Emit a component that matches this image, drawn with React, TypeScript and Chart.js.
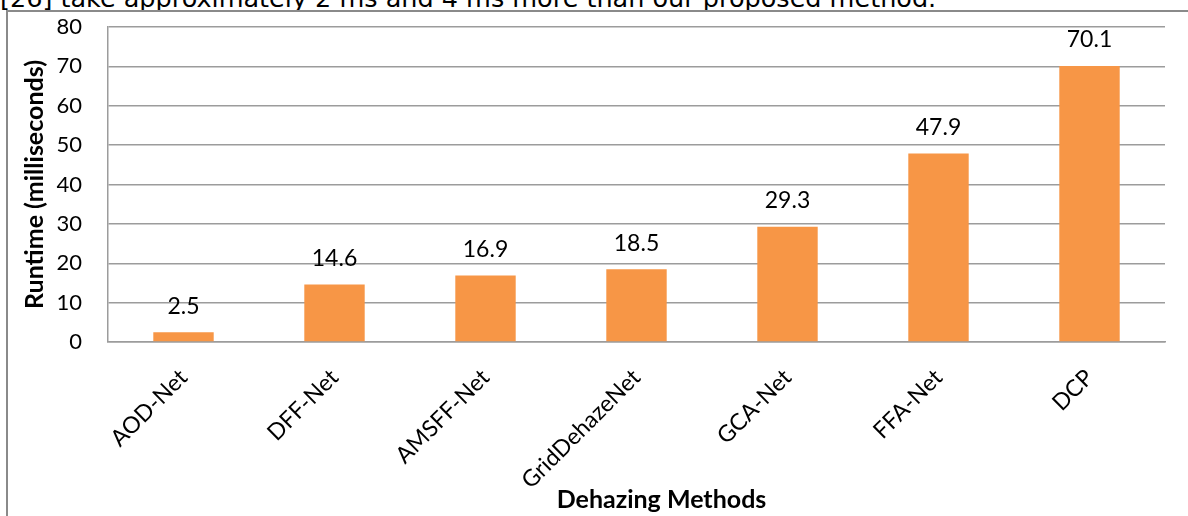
import { useEffect, useRef } from "react";
import { Chart, registerables } from "chart.js";

Chart.register(...registerables);

// Runtime of each dehazing method, in milliseconds
const methods = ["AOD-Net", "DFF-Net", "AMSFF-Net", "GridDehazeNet", "GCA-Net", "FFA-Net", "DCP"];
const runtimeMs = [2.5, 14.6, 16.9, 18.5, 29.3, 47.9, 70.1];

// Value axis range
const yMin = 0;
const yMax = 80;
const yStep = 10;

const captionText = "[26] take approximately 2 ms and 4 ms more than our proposed method.";
const xTitle = "Dehazing Methods";
const yTitle = "Runtime (milliseconds)";

const BAR_COLOR = "#F79646";
const GRID_COLOR = "#9c9c9c";
const TEXT_COLOR = "#000000";
const FONT = "Lato, 'Open Sans', sans-serif";

// Value labels over the bars and the two axis titles
const annotations = {
  id: "annotations",
  afterDatasetsDraw(chart: any) {
    const { ctx, chartArea } = chart;
    const meta = chart.getDatasetMeta(0);
    ctx.save();
    ctx.fillStyle = TEXT_COLOR;
    ctx.font = `23px ${FONT}`;
    ctx.textAlign = "center";
    ctx.textBaseline = "middle";
    meta.data.forEach((bar: any, i: number) => {
      ctx.fillText(runtimeMs[i].toFixed(1), bar.x, bar.y - 26);
    });

    ctx.font = `bold 25px ${FONT}`;
    ctx.fillText(xTitle, (chartArea.left + chartArea.right) / 2 + 25, 500);

    ctx.translate(35, (chartArea.top + chartArea.bottom) / 2);
    ctx.rotate(-Math.PI / 2);
    ctx.fillText(yTitle, 0, 0);
    ctx.restore();
  },
};

export default function App() {
  const canvasRef = useRef<HTMLCanvasElement>(null);

  useEffect(() => {
    if (!canvasRef.current) return;
    const chart = new Chart(canvasRef.current, {
      type: "bar",
      data: {
        labels: methods,
        datasets: [
          {
            data: runtimeMs,
            backgroundColor: BAR_COLOR,
            borderWidth: 0,
            barPercentage: 0.4,
            categoryPercentage: 1,
          },
        ],
      },
      options: {
        animation: false,
        responsive: false,
        maintainAspectRatio: false,
        layout: { padding: { left: 0, right: 23, top: 27, bottom: 0 } },
        plugins: {
          legend: { display: false },
          tooltip: { enabled: false },
          title: { display: false },
        },
        scales: {
          x: {
            grid: { display: false, drawTicks: false },
            border: { display: true, color: GRID_COLOR, width: 1.5 },
            ticks: {
              autoSkip: false,
              maxRotation: 45,
              minRotation: 45,
              padding: 22,
              color: TEXT_COLOR,
              font: { family: FONT, size: 23 },
            },
            afterFit: (scale: any) => {
              scale.height = 174;
            },
          },
          y: {
            min: yMin,
            max: yMax,
            ticks: {
              stepSize: yStep,
              padding: 26,
              color: TEXT_COLOR,
              font: { family: FONT, size: 22 },
            },
            grid: { color: GRID_COLOR, lineWidth: 1.5, drawTicks: false },
            border: { display: true, color: GRID_COLOR, width: 1.5 },
            afterFit: (scale: any) => {
              scale.width = 108;
              // keep the tick padding from pushing the plot edges inward
              scale.paddingTop = 12;
              scale.paddingBottom = 0;
            },
          },
        },
      },
      plugins: [annotations],
    });
    return () => chart.destroy();
  }, []);

  return (
    <div
      style={{
        position: "fixed",
        left: 0,
        top: 0,
        width: 1188,
        height: 516,
        overflow: "hidden",
        background: "#ffffff",
      }}
    >
      <div
        style={{
          position: "absolute",
          left: 0,
          top: -17,
          whiteSpace: "nowrap",
          fontFamily: "'DejaVu Sans', sans-serif",
          fontSize: 25.5,
          lineHeight: "30px",
          color: "#000",
        }}
      >
        {captionText}
      </div>
      <div style={{ position: "absolute", left: 6, top: 10, width: 1182, height: 2, background: "#8a8a8a" }} />
      <div style={{ position: "absolute", left: 6, top: 10, width: 2, height: 506, background: "#8a8a8a" }} />
      <canvas
        ref={canvasRef}
        width={1188}
        height={516}
        style={{ position: "absolute", left: 0, top: 0, width: 1188, height: 516 }}
      />
    </div>
  );
}
